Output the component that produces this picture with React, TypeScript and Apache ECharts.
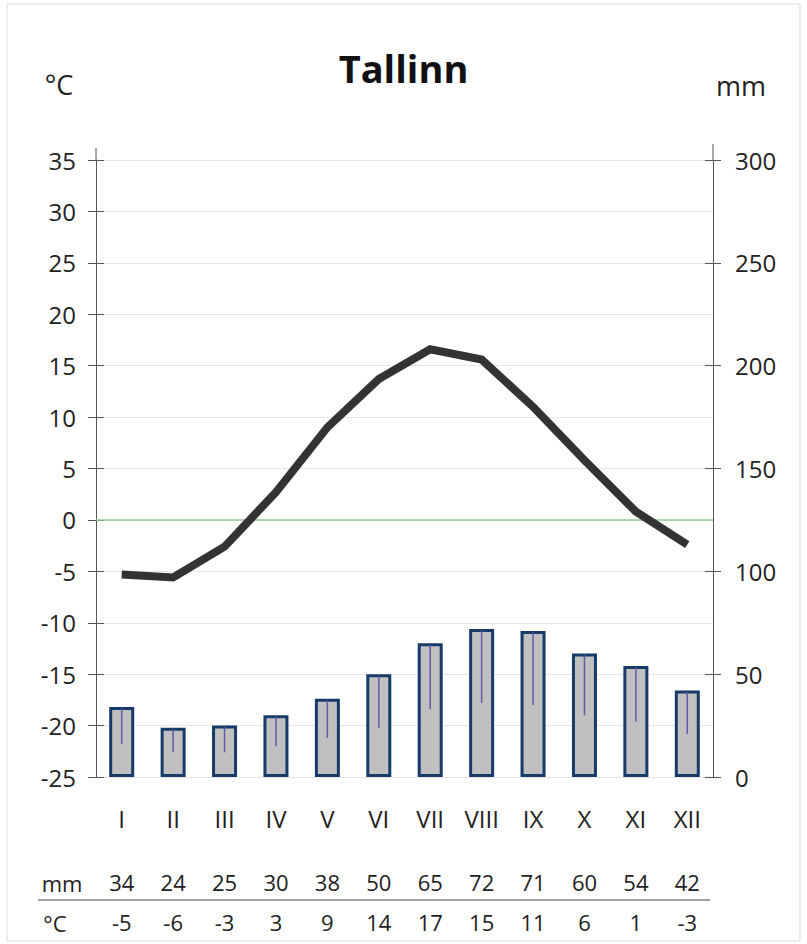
import { useEffect, useRef } from "react";
import * as echarts from "echarts";

const months = ["I", "II", "III", "IV", "V", "VI", "VII", "VIII", "IX", "X", "XI", "XII"];
const precipitation = [34, 24, 25, 30, 38, 50, 65, 72, 71, 60, 54, 42];
const precipInner = [16, 12, 12, 15, 19, 24, 33, 36, 35, 30, 27, 21];
const temperature = [-5.3, -5.6, -2.6, 2.7, 9.0, 13.7, 16.6, 15.6, 11.0, 5.8, 0.8, -2.4];
const mmRow = ["34", "24", "25", "30", "38", "50", "65", "72", "71", "60", "54", "42"];
const tempRow = ["-5", "-6", "-3", "3", "9", "14", "17", "15", "11", "6", "1", "-3"];

const FONT = "'Open Sans', 'Noto Sans', sans-serif";

export default function App() {
  const ref = useRef<HTMLDivElement>(null);
  useEffect(() => {
    const chart = echarts.init(ref.current!, null, { renderer: "svg" });
    const axisColor = "#555";
    const labelStyle = { fontFamily: FONT, fontSize: 24, color: "#222" };
    chart.setOption({
      animation: false,
      backgroundColor: "#fff",
      title: {
        text: "Tallinn",
        left: "center",
        top: 44,
        textStyle: { fontFamily: FONT, fontSize: 38, fontWeight: "bold", color: "#111" },
      },
      grid: { left: 96, right: 94, top: 160, bottom: 167, containLabel: false },
      xAxis: [
        {
          type: "category",
          data: months,
          position: "bottom",
          axisLine: { show: false },
          axisTick: { show: false },
          axisLabel: { ...labelStyle, margin: 29 },
        },
        {
          type: "category",
          data: mmRow,
          position: "bottom",
          axisLine: { show: false },
          axisTick: { show: false },
          axisLabel: { ...labelStyle, fontSize: 22, margin: 94 },
        },
        {
          type: "category",
          data: tempRow,
          position: "bottom",
          axisLine: { show: false },
          axisTick: { show: false },
          axisLabel: { ...labelStyle, fontSize: 22, margin: 134 },
        },
      ],
      yAxis: [
        {
          type: "value",
          min: -25,
          max: 35,
          interval: 5,
          position: "left",
          axisLine: { show: true, lineStyle: { color: axisColor, width: 1 } },
          axisTick: { show: true, length: 8, lineStyle: { color: axisColor } },
          axisLabel: { ...labelStyle, margin: 20 },
          splitLine: { show: true, lineStyle: { color: "#e6e6e6", width: 1 } },
        },
        {
          type: "value",
          min: -25,
          max: 35,
          interval: 5,
          position: "left",
          axisLine: { show: false },
          axisTick: { show: true, inside: true, length: 8, lineStyle: { color: axisColor } },
          axisLabel: { show: false },
          splitLine: { show: false },
        },
        {
          type: "value",
          min: 0,
          max: 300,
          interval: 50,
          position: "right",
          axisLine: { show: true, lineStyle: { color: axisColor, width: 1 } },
          axisTick: { show: true, length: 8, lineStyle: { color: axisColor } },
          axisLabel: { ...labelStyle, margin: 22 },
          splitLine: { show: false },
        },
        {
          type: "value",
          min: 0,
          max: 300,
          interval: 50,
          position: "right",
          axisLine: { show: false },
          axisTick: { show: true, inside: true, length: 8, lineStyle: { color: axisColor } },
          axisLabel: { show: false },
          splitLine: { show: false },
        },
      ],
      series: [
        {
          type: "bar",
          name: "mm",
          xAxisIndex: 0,
          yAxisIndex: 2,
          data: precipitation,
          barWidth: 25,
          z: 2,
          itemStyle: { color: "#c0c0c0", borderColor: "#173b69", borderWidth: 3 },
        },
        {
          type: "custom",
          name: "inner",
          xAxisIndex: 0,
          yAxisIndex: 2,
          z: 3,
          data: precipitation.map((v, i) => [i, v, precipInner[i]]),
          encode: { x: 0, y: [1, 2] },
          renderItem: (params: any, api: any) => {
            const x = api.value(0);
            const p1 = api.coord([x, api.value(1)]);
            const p2 = api.coord([x, api.value(2)]);
            return {
              type: "line",
              shape: { x1: p1[0], y1: p1[1] + 1.5, x2: p2[0], y2: p2[1] },
              style: { stroke: "#5c5ca8", lineWidth: 1.5 },
            };
          },
        },
        {
          type: "line",
          name: "°C",
          xAxisIndex: 0,
          yAxisIndex: 0,
          data: temperature,
          showSymbol: false,
          symbol: "none",
          z: 6,
          lineStyle: { color: "#333", width: 8, join: "miter", cap: "butt" },
          markLine: {
            z: 1,
            silent: true,
            symbol: ["none", "none"],
            label: { show: false },
            lineStyle: { color: "#9cc89c", width: 1.5, type: "solid" },
            data: [{ yAxis: 0 }],
          },
        },
      ],
      graphic: [
        {
          type: "rect",
          shape: { x: 7, y: 4, width: 793, height: 937 },
          style: { fill: "none", stroke: "#dcdcdc", lineWidth: 1 },
          silent: true,
        },
        {
          type: "line",
          shape: { x1: 96, y1: 148, x2: 96, y2: 160 },
          style: { stroke: axisColor, lineWidth: 1 },
        },
        {
          type: "line",
          shape: { x1: 713, y1: 144, x2: 713, y2: 160 },
          style: { stroke: axisColor, lineWidth: 1 },
        },
        {
          type: "text",
          style: { text: "°C", x: 59, y: 84, align: "center", verticalAlign: "middle", fontFamily: FONT, fontSize: 27, fill: "#222" },
        },
        {
          type: "text",
          style: { text: "mm", x: 741, y: 85, align: "center", verticalAlign: "middle", fontFamily: FONT, fontSize: 27, fill: "#222" },
        },
        {
          type: "text",
          style: { text: "mm", x: 62, y: 883, align: "center", verticalAlign: "middle", fontFamily: FONT, fontSize: 22, fill: "#222" },
        },
        {
          type: "text",
          style: { text: "°C", x: 55, y: 923, align: "center", verticalAlign: "middle", fontFamily: FONT, fontSize: 22, fill: "#222" },
        },
        {
          type: "line",
          shape: { x1: 38, y1: 900, x2: 710, y2: 900 },
          style: { stroke: "#444", lineWidth: 1 },
        },
      ],
    });
    return () => chart.dispose();
  }, []);
  return (
    <div
      ref={ref}
      style={{ position: "absolute", left: 0, top: 0, width: 807, height: 944, background: "#fff" }}
    />
  );
}
